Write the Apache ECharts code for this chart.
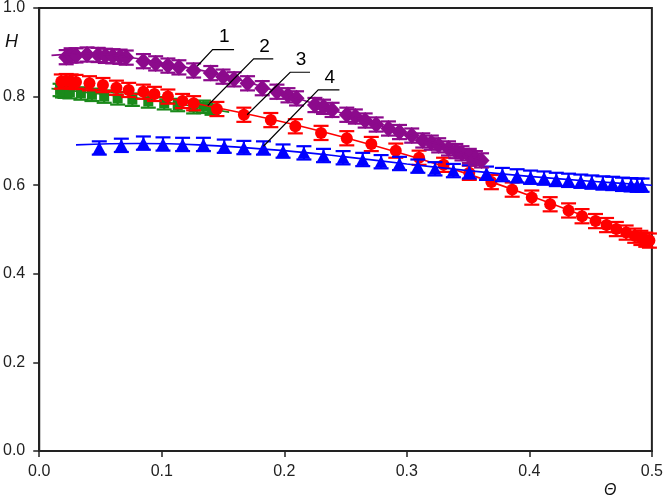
<!DOCTYPE html>
<html>
<head>
<meta charset="utf-8">
<script src="https://cdn.jsdelivr.net/npm/echarts@6/dist/echarts.min.js"></script>
<style>html,body{margin:0;padding:0;background:#fff}#c{width:666px;height:498px}</style>
</head>
<body>
<div id="c"></div>
<script>
// ---- data ----
const xTicks = [0.0, 0.1, 0.2, 0.3, 0.4, 0.5];
const yTicks = [0.0, 0.2, 0.4, 0.6, 0.8, 1.0];

// Series 1 (purple diamonds)
const purpleX = [0.022,0.026,0.030,0.039,0.048,0.054,0.060,0.066,0.071,0.085,0.095,0.105,0.114,0.126,0.140,0.150,0.159,0.170,0.182,0.194,0.203,0.210,0.225,0.232,0.239,0.251,0.258,0.266,0.275,0.285,0.294,0.304,0.313,0.320,0.326,0.334,0.340,0.345,0.351,0.356,0.361];
const purpleY = [0.889,0.893,0.893,0.895,0.894,0.892,0.891,0.890,0.888,0.880,0.875,0.870,0.866,0.859,0.853,0.845,0.839,0.830,0.819,0.811,0.803,0.796,0.781,0.777,0.770,0.759,0.755,0.746,0.737,0.728,0.720,0.712,0.701,0.696,0.690,0.683,0.677,0.672,0.666,0.661,0.656];
const purpleFitX = [0.010,0.040,0.070,0.100,0.150,0.200,0.250,0.300,0.330,0.365];
const purpleFitY = [0.893,0.897,0.890,0.876,0.848,0.806,0.760,0.715,0.688,0.652];

// Series 2 (green squares)
const greenX = [0.017,0.019,0.021,0.025,0.034,0.043,0.053,0.064,0.076,0.089,0.102,0.113,0.126,0.134,0.141];
const greenY = [0.815,0.812,0.811,0.810,0.807,0.804,0.800,0.796,0.793,0.789,0.785,0.781,0.776,0.777,0.773];
const greenFitX = [0.010,0.050,0.100,0.155];
const greenFitY = [0.818,0.806,0.789,0.765];

// Series 3 (red circles)
const redX = [0.018,0.022,0.026,0.030,0.041,0.052,0.063,0.073,0.085,0.094,0.105,0.117,0.126,0.145,0.167,0.189,0.209,0.230,0.251,0.271,0.291,0.310,0.330,0.351,0.369,0.386,0.402,0.417,0.432,0.443,0.454,0.463,0.471,0.479,0.486,0.491,0.495,0.498];
const redY = [0.834,0.835,0.834,0.833,0.830,0.826,0.820,0.815,0.811,0.806,0.800,0.790,0.785,0.772,0.759,0.747,0.733,0.718,0.706,0.693,0.678,0.662,0.646,0.628,0.607,0.590,0.572,0.557,0.543,0.530,0.519,0.510,0.501,0.493,0.486,0.481,0.477,0.475];
const redFitX = [0.015,0.050,0.100,0.150,0.200,0.250,0.300,0.350,0.400,0.450,0.500];
const redFitY = [0.822,0.815,0.798,0.772,0.742,0.707,0.668,0.625,0.577,0.525,0.470];

// Series 4 (blue triangles)
const blueX = [0.049,0.067,0.085,0.101,0.117,0.134,0.151,0.167,0.183,0.199,0.216,0.232,0.248,0.264,0.279,0.294,0.309,0.323,0.338,0.351,0.365,0.378,0.390,0.401,0.412,0.422,0.432,0.442,0.451,0.460,0.468,0.476,0.483,0.488,0.492];
const blueY = [0.684,0.690,0.695,0.693,0.692,0.692,0.688,0.685,0.684,0.677,0.673,0.667,0.662,0.658,0.653,0.649,0.643,0.637,0.633,0.630,0.627,0.624,0.621,0.618,0.616,0.613,0.611,0.609,0.607,0.605,0.604,0.602,0.601,0.600,0.600];
const blueFitX = [0.030,0.080,0.130,0.200,0.250,0.300,0.350,0.400,0.450,0.500];
const blueFitY = [0.691,0.694,0.691,0.678,0.664,0.648,0.633,0.620,0.609,0.600];

// error half-widths (in H units)
const purpleErr = 0.016, greenErr = 0.014, redErr = 0.016, blueErr = 0.015;

// curve labels: number, tip (x,y), elbow (x,y), end (x,y) in data units
const labelNames = ['1','2','3','4'];
const labelTip   = [[0.129,0.869],[0.1375,0.780],[0.1697,0.759],[0.183,0.688]];
const labelElbow = [[0.1415,0.906],[0.175,0.885],[0.2048,0.855],[0.2277,0.815]];
const labelEnd   = [[0.159,0.906],[0.191,0.885],[0.221,0.855],[0.245,0.815]];

// ---- build ----
const zip = (xs, ys) => xs.map((x, i) => [x, ys[i]]);
const COLORS = { purple: '#8c0a8c', green: '#1a8a1a', red: '#ff0000', blue: '#0000ff' };

function errSeries(xs, ys, err, color, z) {
  return {
    type: 'custom', z: z, silent: true,
    data: zip(xs, ys),
    encode: { x: 0, y: 1 },
    renderItem: function (params, api) {
      const x = api.value(0), y = api.value(1);
      const t = api.coord([x, y + err]);
      const b = api.coord([x, y - err]);
      const hw = 7.5;
      const st = { stroke: color, lineWidth: 2.2 };
      return {
        type: 'group',
        children: [
          { type: 'line', shape: { x1: t[0], y1: t[1], x2: b[0], y2: b[1] }, style: st },
          { type: 'line', shape: { x1: t[0] - hw, y1: t[1], x2: t[0] + hw, y2: t[1] }, style: st },
          { type: 'line', shape: { x1: b[0] - hw, y1: b[1], x2: b[0] + hw, y2: b[1] }, style: st }
        ]
      };
    }
  };
}
function fitSeries(xs, ys, color, z) {
  return {
    type: 'line', z: z, data: zip(xs, ys), smooth: 0.4, showSymbol: false, silent: true,
    lineStyle: { color: color, width: 1.6 }
  };
}
function markSeries(xs, ys, color, symbol, size, z) {
  return {
    type: 'scatter', z: z, data: zip(xs, ys), symbol: symbol, symbolSize: size, silent: true,
    itemStyle: { color: color, opacity: 1 }
  };
}

const annData = labelNames.map((n, i) => [labelTip[i][0], labelTip[i][1], labelElbow[i][0], labelElbow[i][1], labelEnd[i][0], labelEnd[i][1], i]);

const annSeries = {
  type: 'custom', z: 20, silent: true,
  data: annData,
  encode: { x: [0, 2, 4], y: [1, 3, 5] },
  renderItem: function (params, api) {
    const p0 = api.coord([api.value(0), api.value(1)]);
    const p1 = api.coord([api.value(2), api.value(3)]);
    const p2 = api.coord([api.value(4), api.value(5)]);
    const name = labelNames[api.value(6)];
    return {
      type: 'group',
      children: [
        { type: 'polyline', shape: { points: [p0, p1, p2] }, style: { stroke: '#000', lineWidth: 1.2, fill: null } },
        { type: 'text', x: (p1[0] + p2[0]) / 2 + 1, y: p1[1] - 3,
          style: { text: name, fill: '#000', font: '19px "Liberation Sans", Arial, sans-serif', align: 'center', verticalAlign: 'bottom' } }
      ]
    };
  }
};

const axisLabelFont = { color: '#222', fontSize: 16, fontFamily: '"Liberation Sans", Arial, sans-serif' };

const option = {
  animation: false,
  backgroundColor: '#fff',
  grid: { left: 37.5, right: 12, top: 6, bottom: 47, show: true, borderColor: '#222', borderWidth: 2, backgroundColor: 'transparent' },
  xAxis: {
    type: 'value', min: xTicks[0], max: xTicks[xTicks.length - 1], interval: 0.1,
    axisLine: { show: true, onZero: false, lineStyle: { color: '#222', width: 2 } },
    axisTick: { show: true, inside: false, length: 6, lineStyle: { color: '#222', width: 1.5 } },
    splitLine: { show: false },
    axisLabel: Object.assign({ margin: 13, formatter: v => v.toFixed(1) }, axisLabelFont)
  },
  yAxis: {
    type: 'value', min: yTicks[0], max: yTicks[yTicks.length - 1], interval: 0.2,
    axisLine: { show: true, onZero: false, lineStyle: { color: '#222', width: 2 } },
    axisTick: { show: true, inside: false, length: 6, lineStyle: { color: '#222', width: 1.5 } },
    splitLine: { show: false },
    axisLabel: Object.assign({ margin: 14, formatter: v => v.toFixed(1) }, axisLabelFont)
  },
  graphic: [
    { type: 'text', left: 5, top: 33, style: { text: 'H', fill: '#111', font: 'italic 18px "Liberation Sans", Arial, sans-serif' } },
    { type: 'text', left: 604, top: 483, style: { text: 'Θ', fill: '#111', font: 'italic 16px "Liberation Sans", Arial, sans-serif' } }
  ],
  series: [
    errSeries(greenX, greenY, greenErr, COLORS.green, 2),
    markSeries(greenX, greenY, COLORS.green, 'rect', 10, 3),
    fitSeries(greenFitX, greenFitY, COLORS.green, 4),
    errSeries(redX, redY, redErr, COLORS.red, 5),
    markSeries(redX, redY, COLORS.red, 'circle', 12, 6),
    fitSeries(redFitX, redFitY, COLORS.red, 7),
    errSeries(blueX, blueY, blueErr, COLORS.blue, 8),
    markSeries(blueX, blueY, COLORS.blue, 'triangle', [13, 12], 9),
    fitSeries(blueFitX, blueFitY, COLORS.blue, 10),
    errSeries(purpleX, purpleY, purpleErr, COLORS.purple, 11),
    markSeries(purpleX, purpleY, COLORS.purple, 'diamond', [16, 17], 12),
    fitSeries(purpleFitX, purpleFitY, COLORS.purple, 13),
    annSeries
  ]
};

const chart = echarts.init(document.getElementById('c'), null, { renderer: 'canvas' });
chart.setOption(option);
</script>
</body>
</html>
